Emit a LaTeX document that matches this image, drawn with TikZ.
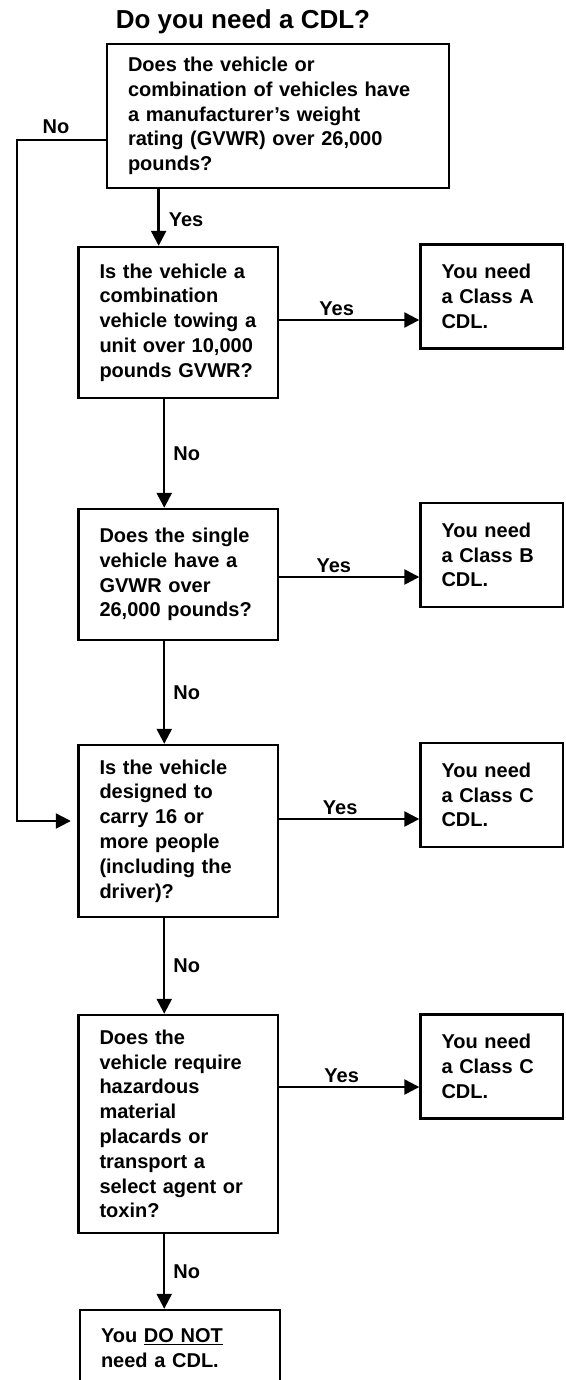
\documentclass[tikz,border=0pt]{standalone}
\usepackage{fontspec}
\setmainfont{Liberation Sans}
\usetikzlibrary{arrows.meta}
\newcommand\boxfont{\bfseries\fontsize{20}{24.8}\selectfont}
\tikzset{
  qbox/.style 2 args={draw, line width=2.4pt, rectangle, align=left, inner xsep=21pt, inner ysep=0pt,
    text width=#1, minimum height=#2, font=\boxfont},
  arr/.style={line width=2.4pt, -{Triangle[length=15pt,width=15pt]}},
  lbl/.style={inner sep=0pt, font=\boxfont}
}
\begin{document}
\begin{tikzpicture}[x=1pt,y=-1pt]
  \path[fill=white,use as bounding box] (0,0) rectangle (565,1380);
  \node[font=\bfseries\fontsize{26}{30}\selectfont, anchor=base] (title) at (243,29) {Do you need a CDL?};

  \node[qbox={300pt}{144pt}] (q1) at (278,116)
    {Does the vehicle or\\combination of vehicles have\\a manufacturer’s weight\\rating (GVWR) over 26,000\\pounds?};
  \node[qbox={157.5pt}{151pt}] (q2) at (178.25,322.5)
    {Is the vehicle a\\combination\\vehicle towing a\\unit over 10,000\\pounds GVWR?};
  \node[qbox={157.5pt}{131pt}] (q3) at (178.25,574.5)
    {Does the single\\vehicle have a\\GVWR over\\26,000 pounds?};
  \node[qbox={157.5pt}{172pt}] (q4) at (178.25,831)
    {Is the vehicle\\designed to\\carry 16 or\\more people\\(including the\\driver)?};
  \node[qbox={157.5pt}{218pt}] (q5) at (178.25,1124)
    {Does the\\vehicle require\\hazardous\\material\\placards or\\transport a\\select agent or\\toxin?};
  \node[qbox={158pt}{76pt}] (nocdl) at (180,1348) {You \underline{DO NOT}\\need a CDL.};

  \foreach \n/\y/\c in {resA/296.5/A, resB/555/B, resC/795/C, resD/1066.5/C}
    \node[qbox={100.5pt}{104pt}] (\n) at (491.75,\y) {You need\\a Class \c\\CDL.};

  \draw[arr] ([xshift=-19.6pt]q2.north |- q1.south) -- ([xshift=-19.6pt]q2.north)
    node[lbl,right=9pt,pos=.54] {Yes};
  \foreach \a/\b in {q2/q3, q3/q4, q4/q5, q5/nocdl}
    \draw[arr] ([xshift=-14pt]\a.south) -- ([xshift=-14pt]\a.south |- \b.north)
      node[lbl,right=8pt,pos=.5] {No};
  \foreach \a/\b/\s/\p in {q2/resA/2.5/.41, q3/resB/-2.5/.39, q4/resC/12/.435, q5/resD/37/.446}
    \draw[arr] ([yshift=\s pt]\a.east) -- ([yshift=\s pt]\a.east -| \b.west)
      node[lbl,above=3pt,pos=\p] {Yes};

  \draw[arr,shorten >=6.5pt] ([yshift=-24pt]q1.west) -- ++(-89,0)
    node[lbl,above=5pt,pos=.56] {No} |- ([yshift=10pt]q4.west);
\end{tikzpicture}
\end{document}
